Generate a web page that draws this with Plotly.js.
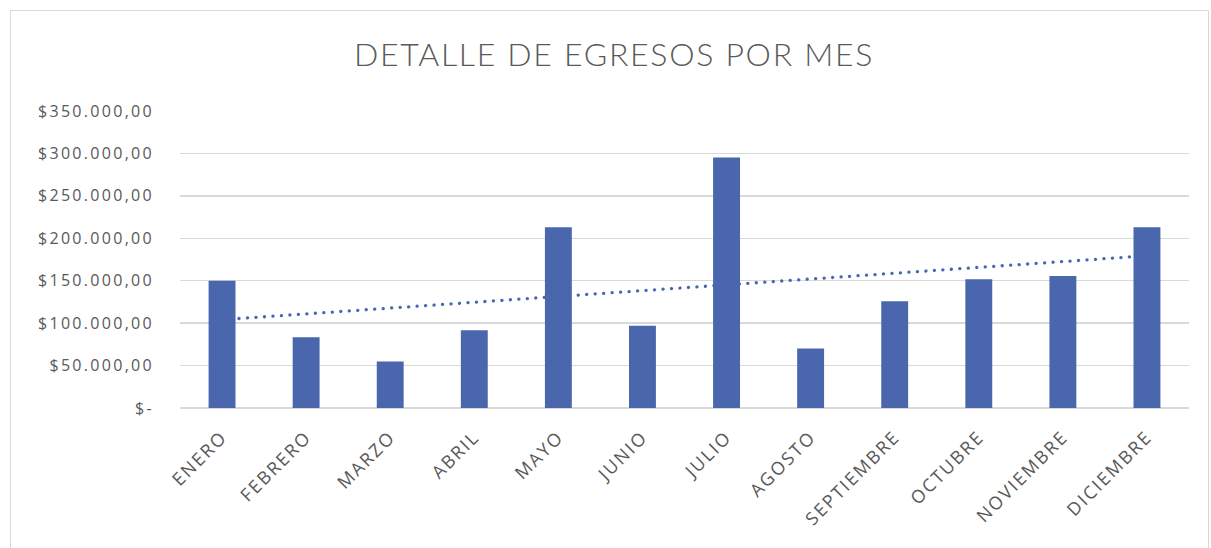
<!DOCTYPE html>
<html>
<head>
<meta charset="utf-8">
<script src="https://cdn.plot.ly/plotly-3.0.1.min.js"></script>
<style>
html,body{margin:0;padding:0;background:#fff;overflow:hidden;}
#chart{width:1211px;height:548px;}
#frame{position:absolute;left:10px;top:10px;width:1197px;height:600px;border:1px solid #d9d9d9;pointer-events:none;}
#chart .ytick text{letter-spacing:2.3px;}
#chart .xtick text{letter-spacing:2px;}
#chart .gtitle{letter-spacing:1.7px;}
#chart .scatterlayer path.js-line{stroke-linecap:round !important;}
</style>
</head>
<body>
<div id="chart"></div>
<div id="frame"></div>
<script>
const months = ["ENERO","FEBRERO","MARZO","ABRIL","MAYO","JUNIO","JULIO","AGOSTO","SEPTIEMBRE","OCTUBRE","NOVIEMBRE","DICIEMBRE"];
const egresos = [150000, 83500, 54800, 91700, 212900, 96800, 295200, 70100, 125800, 151700, 155600, 212900];
const yTickVals = [0, 50000, 100000, 150000, 200000, 250000, 300000, 350000];
const yTickText = ["$-", "$50.000,00", "$100.000,00", "$150.000,00", "$200.000,00", "$250.000,00", "$300.000,00", "$350.000,00"];

// Linear trendline (least squares over month index), as Excel does
const n = egresos.length;
const xs = egresos.map((_, i) => i + 1);
const mx = xs.reduce((a, b) => a + b, 0) / n;
const my = egresos.reduce((a, b) => a + b, 0) / n;
let num = 0, den = 0;
for (let i = 0; i < n; i++) { num += (xs[i] - mx) * (egresos[i] - my); den += (xs[i] - mx) ** 2; }
const slope = num / den, intercept = my - slope * mx;
const trend = xs.map(x => intercept + slope * x);

const barColor = "#4A66AC";
const txt = "#595959";

const data = [
  {type: "bar", x: months, y: egresos, marker: {color: barColor, line: {width: 0}}, width: 0.32, hoverinfo: "x+y", showlegend: false},
  {type: "scatter", mode: "lines", x: months, y: trend, line: {color: barColor, width: 3.3, dash: "0.1px,8.4px"}, showlegend: false, hoverinfo: "skip"}
];

const layout = {
  width: 1211, height: 548,
  margin: {l: 180, r: 22, t: 111, b: 140},
  paper_bgcolor: "#ffffff", plot_bgcolor: "#ffffff",
  font: {family: "'Open Sans', Lato, sans-serif", color: txt, size: 16},
  title: {text: "DETALLE DE EGRESOS POR MES", x: 0.507, xanchor: "center", y: 0.9, yanchor: "middle",
          font: {family: "Lato, 'Open Sans', sans-serif", size: 32, color: txt, weight: 300}},
  xaxis: {type: "category", tickangle: -45, showgrid: false, showline: false, zeroline: false, ticks: "",
          tickfont: {size: 18, color: txt}, ticklabelstandoff: 14, fixedrange: true},
  yaxis: {range: [0, 350000], tickvals: yTickVals, ticktext: yTickText, showgrid: true, gridcolor: "#d9d9d9", gridwidth: 1.3,
          zeroline: true, zerolinecolor: "#d9d9d9", zerolinewidth: 1.3, showline: false, ticks: "",
          tickfont: {size: 16, color: txt}, ticklabelstandoff: 25, fixedrange: true},
  bargap: 0.68
};

Plotly.newPlot("chart", data, layout, {displayModeBar: false, staticPlot: true});
</script>
</body>
</html>
